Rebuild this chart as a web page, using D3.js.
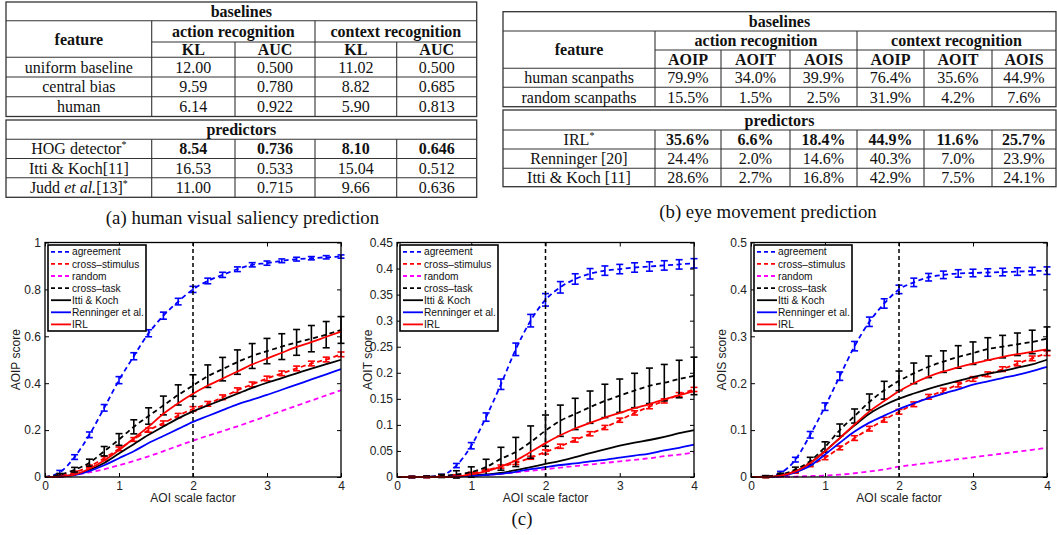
<!DOCTYPE html>
<html><head><meta charset="utf-8">
<script src="https://cdn.jsdelivr.net/npm/d3@7"></script>
<style>body{margin:0;background:#fff}svg{display:block}</style>
</head><body><svg id="fig" width="1057" height="535"></svg>
<script>
// ---------------- TABLE DATA ----------------
const tabGroups = ["action recognition", "context recognition"];
const tabAMetrics = ["KL", "AUC", "KL", "AUC"];
const tabABaseRows = ["uniform baseline", "central bias", "human"];
const tabABaseVals = [["12.00","0.500","11.02","0.500"],["9.59","0.780","8.82","0.685"],["6.14","0.922","5.90","0.813"]];
const tabAPredRows = ["HOG detector*", "Itti & Koch[11]", "Judd et al.[13]*"];
const tabAPredVals = [["8.54","0.736","8.10","0.646"],["16.53","0.533","15.04","0.512"],["11.00","0.715","9.66","0.636"]];
const tabBMetrics = ["AOIP", "AOIT", "AOIS", "AOIP", "AOIT", "AOIS"];
const tabBBaseRows = ["human scanpaths", "random scanpaths"];
const tabBBaseVals = [["79.9%","34.0%","39.9%","76.4%","35.6%","44.9%"],["15.5%","1.5%","2.5%","31.9%","4.2%","7.6%"]];
const tabBPredRows = ["IRL*", "Renninger [20]", "Itti & Koch [11]"];
const tabBPredVals = [["35.6%","6.6%","18.4%","44.9%","11.6%","25.7%"],["24.4%","2.0%","14.6%","40.3%","7.0%","23.9%"],["28.6%","2.7%","16.8%","42.9%","7.5%","24.1%"]];
const captions = ["(a) human visual saliency prediction", "(b) eye movement prediction", "(c)"];

// ---------------- CHART DATA ----------------
const xs = [0,0.2,0.4,0.6,0.8,1.0,1.2,1.4,1.6,1.8,2.0,2.2,2.4,2.6,2.8,3.0,3.2,3.4,3.6,3.8,4.0];
const xTicks = [0,1,2,3,4];
const legendNames = ["agreement","cross\u2013stimulus","random","cross\u2013task","Itti & Koch","Renninger et al.","IRL"];
const markerX = 2;

// AOIP
const aoipTicks = [0,0.2,0.4,0.6,0.8,1];
const aoipTickLabels = ["0","0.2","0.4","0.6","0.8","1"];
const aoipAgreement = [0,0.02,0.085,0.18,0.295,0.413,0.515,0.613,0.688,0.748,0.80,0.836,0.862,0.886,0.905,0.912,0.922,0.929,0.933,0.937,0.94];
const aoipAgreementErr = [0,0.008,0.01,0.012,0.014,0.015,0.015,0.015,0.015,0.014,0.013,0.012,0.011,0.01,0.009,0.009,0.008,0.008,0.007,0.007,0.007];
const aoipCrossStim = [0,0.005,0.02,0.045,0.08,0.12,0.16,0.2,0.23,0.262,0.29,0.312,0.34,0.37,0.395,0.42,0.442,0.463,0.484,0.501,0.523];
const aoipCrossStimErr = [0,0.004,0.005,0.006,0.007,0.008,0.008,0.009,0.009,0.009,0.01,0.01,0.01,0.01,0.01,0.01,0.01,0.01,0.01,0.01,0.01];
const aoipRandom = [0,0.003,0.01,0.02,0.033,0.05,0.068,0.088,0.11,0.133,0.155,0.176,0.196,0.216,0.238,0.26,0.282,0.304,0.326,0.348,0.37];
const aoipCrossTask = [0,0.01,0.031,0.061,0.11,0.16,0.214,0.26,0.305,0.35,0.39,0.43,0.46,0.49,0.516,0.537,0.556,0.574,0.59,0.607,0.627];
const aoipCrossTaskErr = [0,0.005,0.01,0.015,0.02,0.025,0.03,0.035,0.04,0.043,0.046,0.048,0.05,0.052,0.053,0.054,0.055,0.055,0.056,0.056,0.057];
const aoipItti = [0,0.002,0.01,0.03,0.06,0.1,0.14,0.18,0.215,0.25,0.28,0.305,0.33,0.355,0.38,0.402,0.422,0.442,0.462,0.481,0.5];
const aoipRenninger = [0,0.001,0.008,0.025,0.05,0.08,0.11,0.145,0.175,0.205,0.235,0.26,0.285,0.31,0.33,0.35,0.372,0.394,0.416,0.438,0.46];
const aoipIRL = [0,0.002,0.01,0.035,0.07,0.115,0.165,0.215,0.27,0.315,0.355,0.39,0.42,0.45,0.48,0.505,0.53,0.555,0.575,0.598,0.62];

// AOIT
const aoitTicks = [0,0.05,0.1,0.15,0.2,0.25,0.3,0.35,0.4,0.45];
const aoitTickLabels = ["0","0.05","0.1","0.15","0.2","0.25","0.3","0.35","0.4","0.45"];
const aoitAgreement = [0,0,0.0005,0.003,0.022,0.06,0.115,0.178,0.245,0.3,0.34,0.364,0.38,0.39,0.396,0.399,0.402,0.404,0.406,0.408,0.41];
const aoitAgreementErr = [0,0,0.001,0.002,0.004,0.006,0.008,0.01,0.012,0.012,0.012,0.011,0.01,0.01,0.009,0.009,0.009,0.009,0.009,0.009,0.009];
const aoitCrossStim = [0,0,0,0.001,0.003,0.007,0.013,0.02,0.027,0.037,0.048,0.059,0.071,0.083,0.095,0.109,0.123,0.135,0.146,0.158,0.168];
const aoitCrossStimErr = [0,0,0,0.001,0.001,0.002,0.002,0.003,0.003,0.003,0.004,0.004,0.004,0.004,0.004,0.004,0.004,0.004,0.004,0.004,0.004];
const aoitRandom = [0,0,0,0,0.001,0.002,0.004,0.006,0.009,0.012,0.015,0.018,0.021,0.024,0.027,0.03,0.033,0.036,0.04,0.043,0.047];
const aoitCrossTask = [0,0,0.0005,0.002,0.005,0.0095,0.019,0.035,0.048,0.067,0.089,0.108,0.121,0.134,0.146,0.156,0.166,0.175,0.181,0.188,0.194];
const aoitCrossTaskErr = [0,0,0,0.003,0.007,0.01,0.015,0.022,0.028,0.031,0.03,0.03,0.03,0.031,0.032,0.032,0.033,0.034,0.035,0.036,0.036];
const aoitItti = [0,0,0,0,0.001,0.003,0.005,0.008,0.013,0.019,0.025,0.031,0.038,0.046,0.053,0.06,0.066,0.071,0.077,0.084,0.09];
const aoitRenninger = [0,0,0,0,0.001,0.002,0.004,0.006,0.01,0.015,0.019,0.023,0.026,0.03,0.033,0.037,0.041,0.045,0.051,0.056,0.062];
const aoitIRL = [0,0,0,0,0.001,0.005,0.011,0.02,0.032,0.048,0.065,0.08,0.093,0.104,0.114,0.123,0.132,0.14,0.149,0.157,0.165];

// AOIS
const aoisTicks = [0,0.1,0.2,0.3,0.4,0.5];
const aoisTickLabels = ["0","0.1","0.2","0.3","0.4","0.5"];
const aoisAgreement = [0,0.001,0.009,0.037,0.09,0.15,0.215,0.279,0.331,0.37,0.40,0.415,0.426,0.431,0.434,0.435,0.436,0.437,0.438,0.439,0.44];
const aoisAgreementErr = [0,0.001,0.003,0.005,0.007,0.008,0.009,0.01,0.01,0.01,0.009,0.009,0.008,0.008,0.008,0.008,0.008,0.008,0.008,0.008,0.008];
const aoisCrossStim = [0,0,0.002,0.01,0.025,0.041,0.062,0.083,0.103,0.122,0.139,0.155,0.171,0.184,0.197,0.209,0.219,0.23,0.242,0.253,0.264];
const aoisCrossStimErr = [0,0,0.001,0.002,0.003,0.004,0.004,0.005,0.005,0.005,0.005,0.005,0.005,0.005,0.005,0.005,0.005,0.005,0.005,0.005,0.005];
const aoisRandom = [0,0,0,0.001,0.002,0.003,0.005,0.008,0.012,0.016,0.022,0.026,0.03,0.034,0.038,0.042,0.046,0.05,0.054,0.058,0.062];
const aoisCrossTask = [0,0.001,0.005,0.016,0.034,0.064,0.1,0.13,0.16,0.185,0.205,0.221,0.235,0.246,0.256,0.264,0.273,0.278,0.283,0.288,0.295];
const aoisCrossTaskErr = [0,0.002,0.003,0.005,0.008,0.011,0.013,0.015,0.017,0.019,0.021,0.022,0.023,0.023,0.024,0.024,0.024,0.024,0.024,0.025,0.025];
const aoisItti = [0,0,0.003,0.012,0.03,0.055,0.083,0.11,0.135,0.153,0.167,0.178,0.188,0.197,0.205,0.213,0.22,0.226,0.233,0.24,0.25];
const aoisRenninger = [0,0,0.002,0.01,0.024,0.048,0.073,0.097,0.116,0.131,0.145,0.157,0.168,0.178,0.187,0.197,0.204,0.211,0.218,0.226,0.235];
const aoisIRL = [0,0,0.003,0.012,0.03,0.055,0.083,0.112,0.14,0.162,0.183,0.2,0.214,0.225,0.234,0.242,0.249,0.256,0.262,0.267,0.272];

// ---------------- DRAWING ----------------
const svg = d3.select("#fig");
const SERIF = "'Liberation Serif','Times New Roman',serif";
const SANS = "'Liberation Sans',Arial,Helvetica,sans-serif";
const TFS = 16;

function addLabel(sel, label) {
  const star = label.endsWith("*");
  const base = star ? label.slice(0, -1) : label;
  base.split(/(et al\.)/).forEach(p => {
    if (!p) return;
    sel.append("tspan").attr("font-style", p === "et al." ? "italic" : null).text(p);
  });
  if (star) sel.append("tspan").attr("dy", -6).attr("font-size", "10px").text("*");
}

function drawTable(cols, y1, y2, metrics, baseRows, baseVals, predRows, predVals, boldRow) {
  const g = svg.append("g").attr("font-family", SERIF).attr("font-size", TFS).attr("fill", "#111");
  const L = cols[0], R = cols[cols.length - 1];
  const line = (xa, ya, xb, yb) => g.append("line").attr("x1", xa).attr("y1", ya).attr("x2", xb).attr("y2", yb)
      .attr("stroke", "#333").attr("stroke-width", 1.1);
  const text = (x, y, s, bold) => {
    const t = g.append("text").attr("x", x).attr("y", y + 5.5).attr("text-anchor", "middle")
      .attr("font-weight", bold ? "bold" : null);
    addLabel(t, s);
    return t;
  };
  const m = metrics.length / 2;
  const mid = (i) => (cols[i] + cols[i + 1]) / 2;
  // block 1
  const bot1 = y1.rows[y1.rows.length - 1];
  g.append("rect").attr("x", L).attr("y", y1.top).attr("width", R - L).attr("height", bot1 - y1.top)
    .attr("fill", "none").attr("stroke", "#333").attr("stroke-width", 1.3);
  line(L, y1.b1, R, y1.b1);
  line(cols[1], y1.g, R, y1.g);
  line(L, y1.h, R, y1.h);
  y1.rows.slice(0, -1).forEach(yy => line(L, yy, R, yy));
  cols.slice(1, -1).forEach((cx, i) => {
    const major = (i % m) === 0;
    line(cx, major ? y1.b1 : y1.g, cx, bot1);
  });
  text((L + R) / 2, (y1.top + y1.b1) / 2, "baselines", true);
  text(mid(0), (y1.b1 + y1.h) / 2, "feature", true);
  tabGroups.forEach((gn, k) => text((cols[1 + k * m] + cols[1 + (k + 1) * m]) / 2, (y1.b1 + y1.g) / 2, gn, true));
  metrics.forEach((mn, j) => text(mid(j + 1), (y1.g + y1.h) / 2, mn, true));
  const rowsTop1 = [y1.h].concat(y1.rows);
  baseRows.forEach((rn, r) => {
    const cy = (rowsTop1[r] + rowsTop1[r + 1]) / 2;
    text(mid(0), cy, rn, false);
    baseVals[r].forEach((v, j) => text(mid(j + 1), cy, v, false));
  });
  // block 2
  const bot2 = y2.rows[y2.rows.length - 1];
  g.append("rect").attr("x", L).attr("y", y2.top).attr("width", R - L).attr("height", bot2 - y2.top)
    .attr("fill", "none").attr("stroke", "#333").attr("stroke-width", 1.3);
  line(L, y2.p, R, y2.p);
  y2.rows.slice(0, -1).forEach(yy => line(L, yy, R, yy));
  cols.slice(1, -1).forEach(cx => line(cx, y2.p, cx, bot2));
  text((L + R) / 2, (y2.top + y2.p) / 2, "predictors", true);
  const rowsTop2 = [y2.p].concat(y2.rows);
  predRows.forEach((rn, r) => {
    const cy = (rowsTop2[r] + rowsTop2[r + 1]) / 2;
    text(mid(0), cy, rn, false);
    predVals[r].forEach((v, j) => text(mid(j + 1), cy, v, r === boldRow));
  });
}

drawTable([6, 151.7, 235, 315, 396.7, 476.7],
  {top: 2, b1: 20.7, g: 42, h: 57.3, rows: [77, 96.8, 116.5]},
  {top: 120, p: 139.3, rows: [158.5, 177.8, 197.3]},
  tabAMetrics, tabABaseRows, tabABaseVals, tabAPredRows, tabAPredVals, 0);

drawTable([503, 655, 721, 790, 857, 924, 992, 1056],
  {top: 11.7, b1: 31, g: 50, h: 68.3, rows: [87.3, 106.7]},
  {top: 110, p: 130, rows: [149, 168.3, 186.7]},
  tabBMetrics, tabBBaseRows, tabBBaseVals, tabBPredRows, tabBPredVals, 0);

// captions
const capPos = [[242.5, 224], [768, 218], [522, 525]];
captions.forEach((c, i) => svg.append("text").attr("x", capPos[i][0]).attr("y", capPos[i][1])
  .attr("text-anchor", "middle").attr("font-family", SERIF).attr("font-size", 18.8).attr("fill", "#111").text(c));

// ---------------- CHARTS ----------------
const charts = [
  {L: 45, R: 341, yMax: 1, ticks: aoipTicks, labels: aoipTickLabels, yLabel: "AOIP score",
   s: [aoipAgreement, aoipCrossStim, aoipRandom, aoipCrossTask, aoipItti, aoipRenninger, aoipIRL],
   e: [aoipAgreementErr, aoipCrossStimErr, null, aoipCrossTaskErr, null, null, null]},
  {L: 397, R: 694, yMax: 0.45, ticks: aoitTicks, labels: aoitTickLabels, yLabel: "AOIT score",
   s: [aoitAgreement, aoitCrossStim, aoitRandom, aoitCrossTask, aoitItti, aoitRenninger, aoitIRL],
   e: [aoitAgreementErr, aoitCrossStimErr, null, aoitCrossTaskErr, null, null, null]},
  {L: 751, R: 1047, yMax: 0.5, ticks: aoisTicks, labels: aoisTickLabels, yLabel: "AOIS score",
   s: [aoisAgreement, aoisCrossStim, aoisRandom, aoisCrossTask, aoisItti, aoisRenninger, aoisIRL],
   e: [aoisAgreementErr, aoisCrossStimErr, null, aoisCrossTaskErr, null, null, null]}
];
const colors = ["#0000ff", "#ff0000", "#ff00ff", "#000000", "#000000", "#0000ff", "#ff0000"];
const dashed = [true, true, true, true, false, false, false];
const T = 242.5, B = 477;

charts.forEach(c => {
  const g = svg.append("g");
  const x = d3.scaleLinear().domain([0, 4]).range([c.L, c.R]);
  const y = d3.scaleLinear().domain([0, c.yMax]).range([B, T]);
  g.append("rect").attr("x", c.L).attr("y", T).attr("width", c.R - c.L).attr("height", B - T).attr("fill", "#fff");
  const lineGen = d3.line().x((d, i) => x(xs[i])).y(d => y(d)).curve(d3.curveMonotoneX);
  c.s.forEach((vals, k) => {
    g.append("path").datum(vals).attr("d", lineGen).attr("fill", "none")
      .attr("stroke", colors[k]).attr("stroke-width", 1.8)
      .attr("stroke-dasharray", dashed[k] ? "5,3.5" : null);
    const err = c.e[k];
    if (err) {
      const eg = g.append("g").attr("stroke", colors[k]).attr("stroke-width", 1.6);
      vals.forEach((v, i) => {
        if (xs[i] === 0) return;
        const e = Math.max(err[i], 0.003 * c.yMax);
        const px = x(xs[i]), y0 = y(v - e), y1v = y(v + e);
        eg.append("line").attr("x1", px).attr("x2", px).attr("y1", y0).attr("y2", y1v);
        eg.append("line").attr("x1", px - 3.5).attr("x2", px + 3.5).attr("y1", y0).attr("y2", y0);
        eg.append("line").attr("x1", px - 3.5).attr("x2", px + 3.5).attr("y1", y1v).attr("y2", y1v);
      });
    }
  });
  // vertical marker line
  g.append("line").attr("x1", x(markerX)).attr("x2", x(markerX)).attr("y1", B).attr("y2", T)
    .attr("stroke", "#000").attr("stroke-width", 1.5).attr("stroke-dasharray", "4,3");
  // axes
  const styleAxis = (a) => {
    a.select(".domain").remove();
    a.selectAll(".tick line").attr("stroke", "#000").attr("stroke-width", 1);
    a.selectAll("text").attr("font-family", SANS).attr("font-size", 12).attr("fill", "#222");
  };
  g.append("g").attr("transform", `translate(0,${B})`)
    .call(d3.axisBottom(x).tickValues(xTicks).tickSizeInner(-4).tickSizeOuter(0).tickPadding(4).tickFormat(d3.format("d")))
    .call(styleAxis);
  g.append("g").attr("transform", `translate(0,${T})`)
    .call(d3.axisTop(x).tickValues(xTicks).tickSizeInner(-4).tickSizeOuter(0).tickFormat(""))
    .call(styleAxis);
  g.append("g").attr("transform", `translate(${c.L},0)`)
    .call(d3.axisLeft(y).tickValues(c.ticks).tickSizeInner(-4).tickSizeOuter(0).tickPadding(4).tickFormat((d, i) => c.labels[i]))
    .call(styleAxis);
  g.append("g").attr("transform", `translate(${c.R},0)`)
    .call(d3.axisRight(y).tickValues(c.ticks).tickSizeInner(-4).tickSizeOuter(0).tickFormat(""))
    .call(styleAxis);
  g.append("rect").attr("x", c.L).attr("y", T).attr("width", c.R - c.L).attr("height", B - T)
    .attr("fill", "none").attr("stroke", "#000").attr("stroke-width", 1.3);
  // labels
  g.append("text").attr("x", (c.L + c.R) / 2).attr("y", B + 25).attr("text-anchor", "middle")
    .attr("font-family", SANS).attr("font-size", 12).attr("fill", "#222").text("AOI scale factor");
  g.append("text").attr("transform", `translate(${c.L - 25},${(T + B) / 2}) rotate(-90)`).attr("text-anchor", "middle")
    .attr("font-family", SANS).attr("font-size", 12).attr("fill", "#222").text(c.yLabel);
  // legend
  const lx = c.L + 3, ly = T + 2.5, lw = 98, lh = 86;
  const lg = g.append("g");
  lg.append("rect").attr("x", lx).attr("y", ly).attr("width", lw).attr("height", lh)
    .attr("fill", "#fff").attr("stroke", "#000").attr("stroke-width", 1.6);
  legendNames.forEach((n, k) => {
    const yy = ly + 6.8 + k * 12.1;
    lg.append("line").attr("x1", lx + 3).attr("x2", lx + 23).attr("y1", yy).attr("y2", yy)
      .attr("stroke", colors[k]).attr("stroke-width", 1.8).attr("stroke-dasharray", dashed[k] ? "4,3" : null);
    lg.append("text").attr("x", lx + 24).attr("y", yy + 3.6).attr("font-family", SANS).attr("font-size", 10.2)
      .attr("fill", "#111").text(n);
  });
});
</script></body></html>
